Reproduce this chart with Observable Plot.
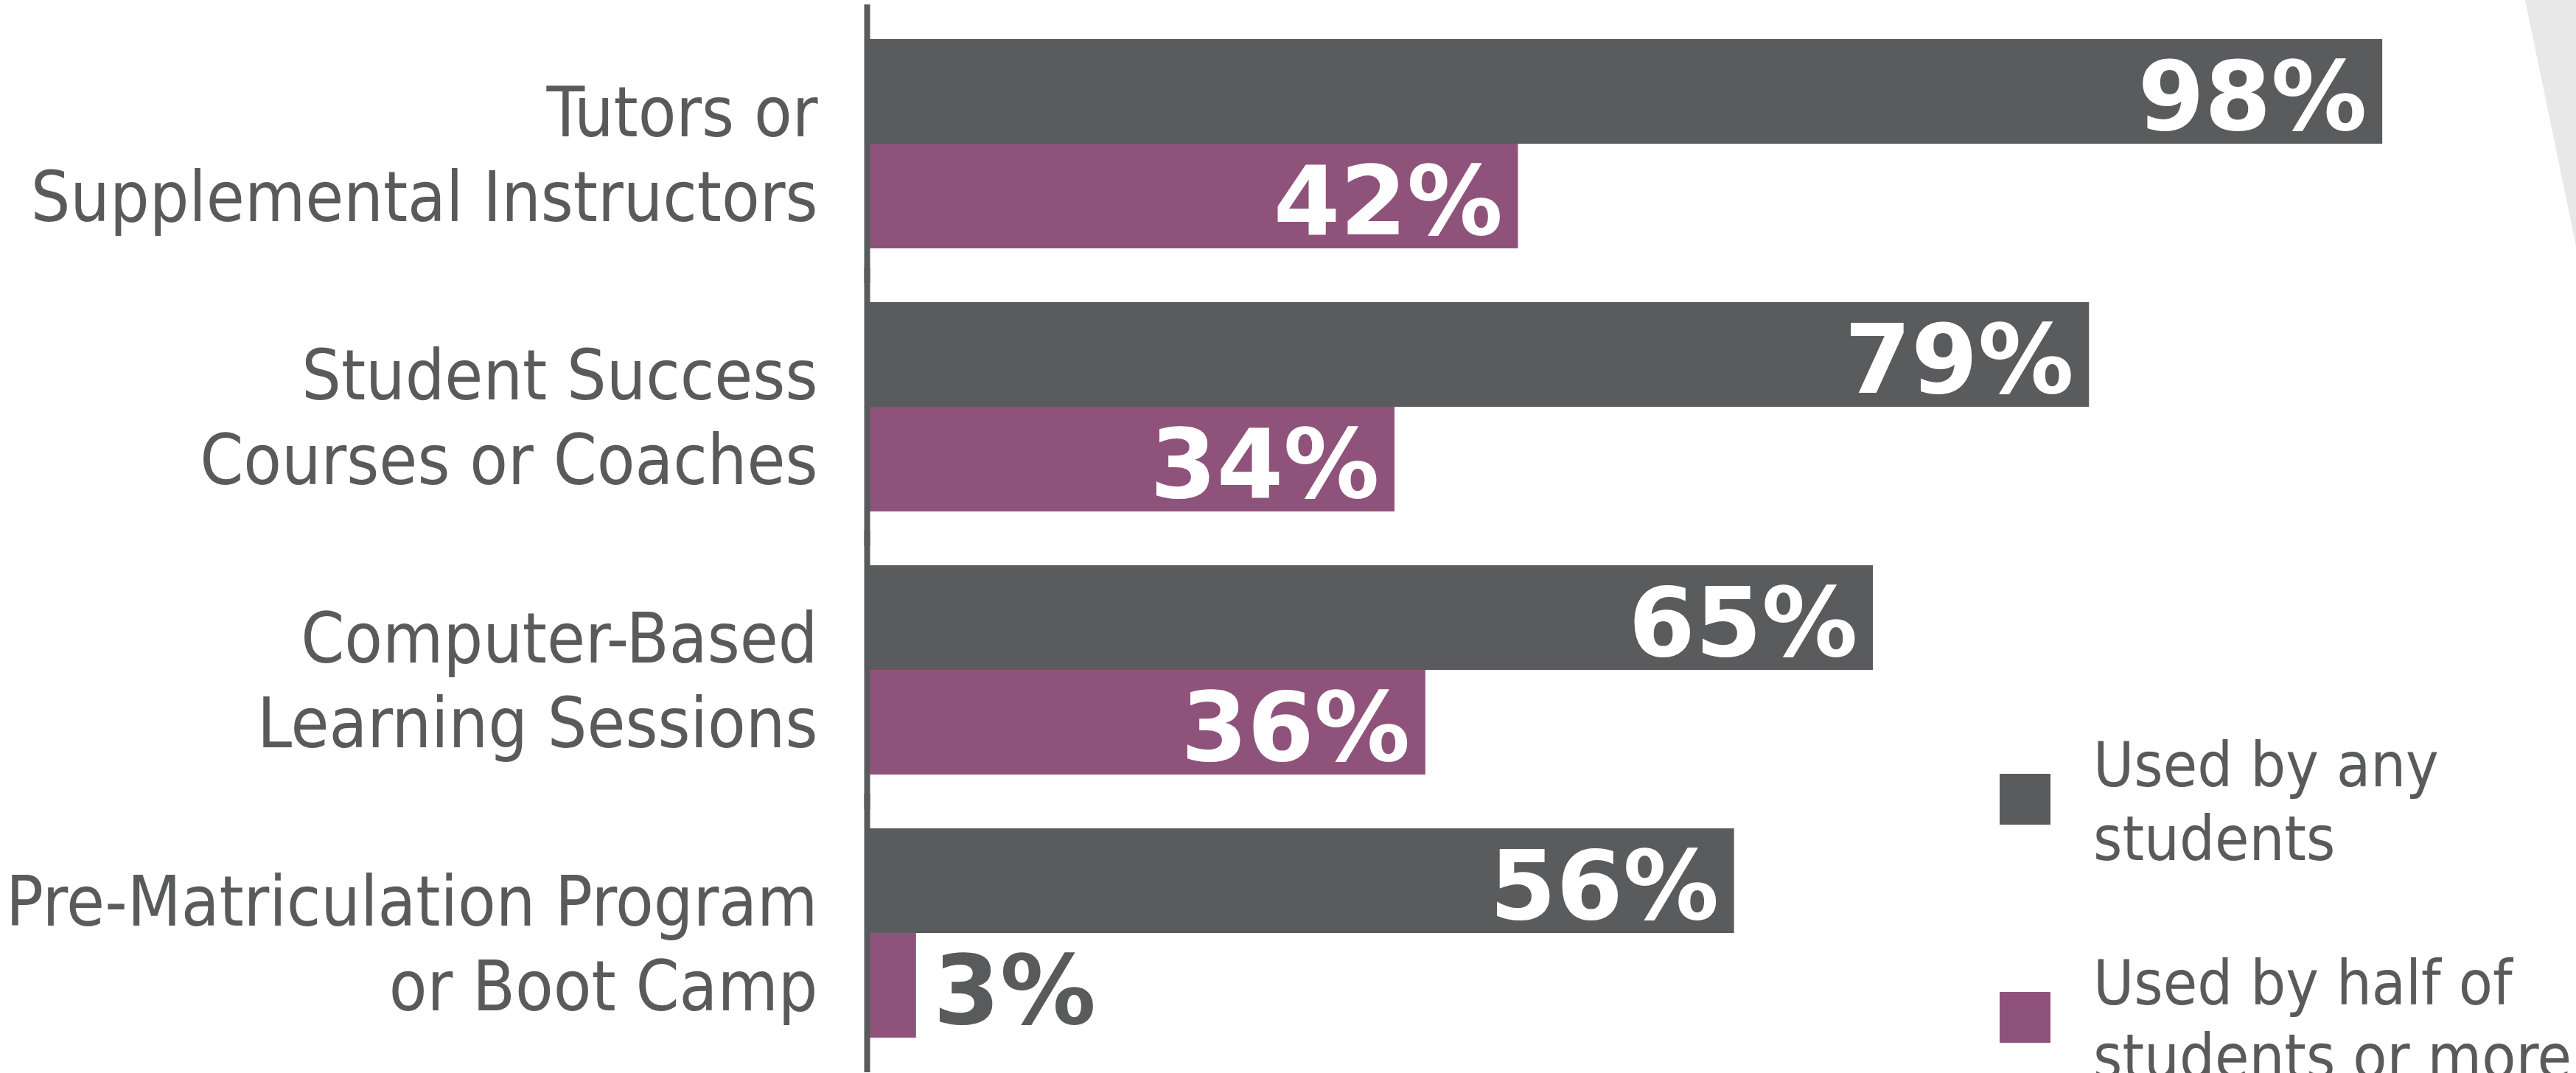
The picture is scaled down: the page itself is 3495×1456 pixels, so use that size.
<!DOCTYPE html>
<html>
<head>
<meta charset="utf-8">
<script src="https://cdn.jsdelivr.net/npm/d3@7"></script>
<script src="https://cdn.jsdelivr.net/npm/@observablehq/plot@0.6"></script>
<style>
  html, body { margin: 0; padding: 0; background: #fff; overflow: hidden; }
  #wrap { position: relative; width: 3495px; height: 1456px; overflow: hidden; }
  #deco { position: absolute; left: 0; top: 0; width: 3495px; height: 1456px; pointer-events: none;
          background: #e8e8e8; clip-path: polygon(3426px 0px, 3495px 0px, 3495px 334px); }
  #legend { position: absolute; left: 2713px; top: 0; font-family: "DejaVu Sans Condensed", "DejaVu Sans", sans-serif;
            font-stretch: condensed; color: #595a5c; font-size: 84px; line-height: 100px; }
  .item { position: absolute; left: 0; width: 780px; }
  .sw { position: absolute; left: 0; width: 69px; height: 69px; }
  .lbl { position: absolute; left: 127px; white-space: nowrap; }
</style>
</head>
<body>
<div id="wrap">
  <div id="chart"></div>
  <div id="legend"></div>
  <div id="deco"></div>
</div>
<script>
const categories = [
  "Tutors or Supplemental Instructors",
  "Student Success Courses or Coaches",
  "Computer-Based Learning Sessions",
  "Pre-Matriculation Program or Boot Camp"
];
const categoryLabels = [
  "Tutors or\nSupplemental Instructors",
  "Student Success\nCourses or Coaches",
  "Computer-Based\nLearning Sessions",
  "Pre-Matriculation Program\nor Boot Camp"
];
const series = ["Used by any students", "Used by half of students or more"];
const legendLines = [["Used by any", "students"], ["Used by half of", "students or more"]];
const usedByAny = [98, 79, 65, 56];
const usedByHalf = [42, 34, 36, 3];
const colors = ["#5a5b5d", "#8f537b"];
const textColor = "#595a5c";

const data = categories.flatMap((c, i) => [
  {category: c, series: series[0], value: usedByAny[i]},
  {category: c, series: series[1], value: usedByHalf[i]}
]);

const labelFont = "'DejaVu Sans Condensed', 'DejaVu Sans', sans-serif";
const valueFont = "'DejaVu Sans', sans-serif";

const chart = Plot.plot({
  width: 3495,
  height: 1456,
  marginLeft: 1180,
  marginRight: 221,
  marginTop: 7,
  marginBottom: 2,
  style: {background: "transparent", color: textColor, fontFamily: labelFont},
  x: {domain: [0, 100], axis: null},
  y: {domain: series, padding: 0, axis: null},
  fy: {domain: categories, paddingInner: 0.199, paddingOuter: 0.126, round: false},
  color: {domain: series, range: colors},
  marks: [
    Plot.barX(data, {fy: "category", y: "series", x: "value", fill: "series"}),
    Plot.ruleX([0], {stroke: textColor, strokeWidth: 8, dx: -4, insetTop: -46, insetBottom: -46}),
    Plot.text(data.filter(d => d.value >= 10), {
      fy: "category", y: "series", x: "value", text: d => d.value + "%",
      textAnchor: "end", dx: -21, dy: 10, fill: "white", fontWeight: "bold",
      fontSize: 130, fontFamily: valueFont
    }),
    Plot.text(data.filter(d => d.value < 10), {
      fy: "category", y: "series", x: "value", text: d => d.value + "%",
      textAnchor: "start", dx: 23, dy: 10, fill: textColor, fontWeight: "bold",
      fontSize: 130, fontFamily: valueFont
    }),
    Plot.axisFy({
      anchor: "left", tickSize: 0, tickPadding: 71, label: null,
      fontSize: 94, lineHeight: 1.22, dy: 10, fill: textColor,
      fontFamily: labelFont,
      tickFormat: d => categoryLabels[categories.indexOf(d)]
    })
  ]
});
document.getElementById("chart").appendChild(chart);

// Legend built from the series and colours
const legend = document.getElementById("legend");
const legendTops = [988, 1284];
series.forEach((s, i) => {
  const item = document.createElement("div");
  item.className = "item";
  item.style.top = legendTops[i] + "px";
  const sw = document.createElement("div");
  sw.className = "sw";
  sw.style.background = colors[i];
  sw.style.top = "62px";
  const lbl = document.createElement("div");
  lbl.className = "lbl";
  lbl.innerHTML = legendLines[i].join("<br>");
  item.appendChild(sw);
  item.appendChild(lbl);
  legend.appendChild(item);
});
</script>
</body>
</html>
